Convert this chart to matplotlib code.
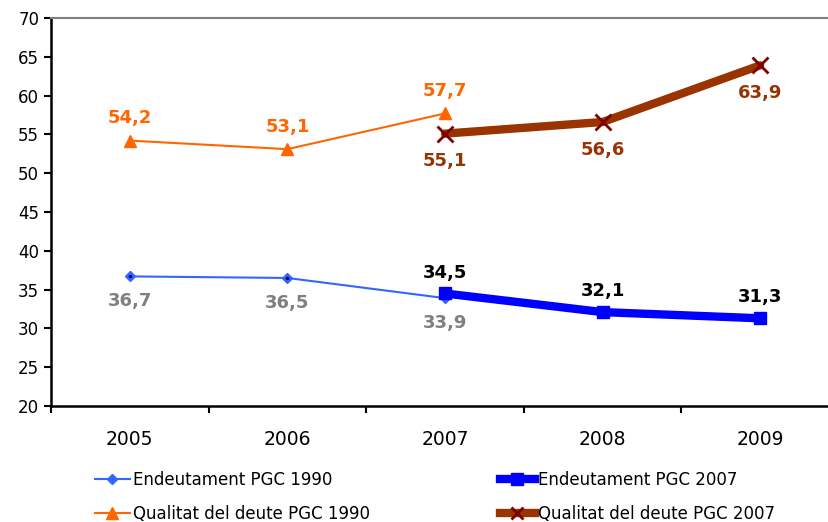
import numpy as np
import matplotlib.pyplot as plt
from matplotlib.lines import Line2D

years = ["2005", "2006", "2007", "2008", "2009"]
endeut_1990 = [36.7, 36.5, 33.9]
endeut_2007 = [34.5, 32.1, 31.3]
qualitat_1990 = [54.2, 53.1, 57.7]
qualitat_2007 = [55.1, 56.6, 63.9]

x_1990 = np.arange(0, 3)
x_2007 = np.arange(2, 5)

plt.rcParams['font.family'] = ['DejaVu Sans']

fig = plt.figure(figsize=(8.29, 5.22), dpi=100)
ax = fig.add_axes([51 / 829, 116 / 522, 788 / 829, 388 / 522])

# Lines
ax.plot(x_1990, endeut_1990, color='#3366FF', lw=1.5, marker='D', ms=5,
        markerfacecolor='#3366FF', markeredgecolor='#3366FF', zorder=3)
ax.plot(x_1990, endeut_1990, ls='', marker='.', ms=3, color='#000066', zorder=4)
ax.plot(x_1990, qualitat_1990, color='#FF6600', lw=1.5, marker='^', ms=8, zorder=3)
ax.plot(x_2007, endeut_2007, color='#0000FF', lw=6, marker='s', ms=9, zorder=5,
        solid_capstyle='round')
ax.plot(x_2007, qualitat_2007, color='#993300', lw=6, zorder=5, solid_capstyle='round')
ax.plot(x_2007, qualitat_2007, ls='', marker='x', ms=11, mew=2, color='#800000', zorder=6)

# Data labels
lab = dict(fontsize=13, fontweight='bold', ha='center', va='center')


def fmt(v):
    return f"{v:.1f}".replace('.', ',')


for xi, v in zip(x_1990, endeut_1990):
    ax.annotate(fmt(v), (xi, v), xytext=(0, -18), textcoords='offset points',
                color='#808080', **lab)
for xi, v in zip(x_1990, qualitat_1990):
    ax.annotate(fmt(v), (xi, v), xytext=(0, 16), textcoords='offset points',
                color='#FF6600', **lab)
for xi, v in zip(x_2007, endeut_2007):
    ax.annotate(fmt(v), (xi, v), xytext=(0, 15), textcoords='offset points',
                color='black', **lab)
for xi, v in zip(x_2007, qualitat_2007):
    ax.annotate(fmt(v), (xi, v), xytext=(0, -20), textcoords='offset points',
                color='#993300', **lab)

# Axes
ax.set_xlim(-0.5, 4.5)
ax.set_ylim(20, 70)
ax.set_yticks(np.arange(20, 71, 5))
ax.set_xticks(np.arange(5))
ax.set_xticklabels(years, fontsize=13.5)
ax.set_xticks(np.arange(-0.5, 4.6, 1), minor=True)
ax.tick_params(axis='x', which='major', length=0, pad=17)
ax.tick_params(axis='x', which='minor', length=5, width=1.5, direction='out')
ax.tick_params(axis='y', labelsize=12, length=5, width=1.5, direction='out')
ax.spines['left'].set_linewidth(1.8)
ax.spines['bottom'].set_linewidth(1.8)
ax.spines['right'].set_visible(False)
ax.spines['top'].set_color('#808080')
ax.spines['top'].set_linewidth(1.5)

# Legend (two columns placed separately)
h_e90 = Line2D([], [], color='#3366FF', lw=1.5, marker='D', ms=5)
h_q90 = Line2D([], [], color='#FF6600', lw=1.5, marker='^', ms=8)
h_e07 = Line2D([], [], color='#0000FF', lw=6, marker='s', ms=9)
h_q07 = Line2D([], [], color='#993300', lw=6, marker='x', ms=9, mew=2,
               markeredgecolor='#800000')

leg_kw = dict(loc='center left', frameon=False, fontsize=12, handlelength=2.1,
              handletextpad=0.2, labelspacing=0.95, borderpad=0, borderaxespad=0)
leg1 = fig.legend([h_e90, h_q90], ["Endeutament PGC 1990", "Qualitat del deute PGC 1990"],
                  bbox_to_anchor=(95 / 829, 1 - 497 / 522), **leg_kw)
leg2 = fig.legend([h_e07, h_q07], ["Endeutament PGC 2007", "Qualitat del deute PGC 2007"],
                  bbox_to_anchor=(500 / 829, 1 - 497 / 522), **leg_kw)

fig.savefig("out.png", dpi=100)
